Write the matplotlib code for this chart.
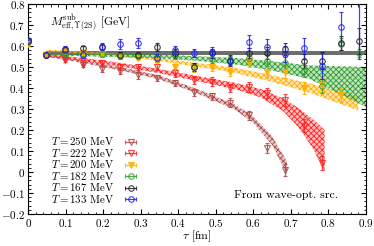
import numpy as np
import matplotlib
matplotlib.use("Agg")
import matplotlib.pyplot as plt
from matplotlib.ticker import MultipleLocator, FuncFormatter

plt.rcParams['font.family'] = 'serif'
plt.rcParams['font.serif'] = ['cmr10', 'DejaVu Serif']
plt.rcParams['mathtext.fontset'] = 'cm'
plt.rcParams['axes.formatter.use_mathtext'] = True
plt.rcParams['hatch.linewidth'] = 0.6

# lattice time slices, tau = n * a
a = 0.049
labels = ['$T = 250$ MeV', '$T = 222$ MeV', '$T = 200$ MeV',
          '$T = 182$ MeV', '$T = 167$ MeV', '$T = 133$ MeV']
colors = ['#b04848', '#ff2020', '#ffae00', '#2e9e2e', '#202020', '#2020ee']
markers = ['v', 'v', 'v', 'o', 'o', 'o']

m250 = [0.62, 0.557, 0.543, 0.51, 0.49, 0.48, 0.46, 0.448, 0.424, 0.38, 0.36,
        0.33, 0.27, 0.115, 0.01]
e250 = [0.01, 0.008, 0.01, 0.012, 0.012, 0.014, 0.015, 0.015, 0.016, 0.017,
        0.018, 0.02, 0.022, 0.025, 0.03]
m222 = [0.62, 0.557, 0.533, 0.52, 0.52, 0.5, 0.5, 0.5, 0.471, 0.438, 0.43,
        0.40, 0.405, 0.376, 0.343, 0.22, 0.043]
e222 = [0.01, 0.008, 0.01, 0.012, 0.012, 0.014, 0.015, 0.016, 0.017, 0.018,
        0.02, 0.02, 0.022, 0.025, 0.028, 0.03, 0.035]
m200 = [0.61, 0.557, 0.575, 0.565, 0.56, 0.55, 0.545, 0.53, 0.5, 0.495, 0.5,
        0.476, 0.52, 0.476, 0.476, 0.40, 0.414, 0.367]
e200 = [0.01, 0.008, 0.01, 0.01, 0.012, 0.012, 0.014, 0.015, 0.016, 0.018,
        0.02, 0.02, 0.022, 0.025, 0.028, 0.03, 0.032, 0.035]
m182 = [0.62, 0.557, 0.56, 0.56, 0.56, 0.55, 0.55, 0.545, 0.555, 0.5, 0.54,
        0.533, 0.543, 0.53, 0.52, 0.48, 0.41, 0.61, 0.567]
e182 = [0.01, 0.008, 0.01, 0.01, 0.012, 0.012, 0.014, 0.015, 0.016, 0.018,
        0.02, 0.02, 0.022, 0.025, 0.028, 0.03, 0.035, 0.03, 0.02]
m167 = [0.625, 0.557, 0.583, 0.59, 0.595, 0.557, 0.557, 0.595, 0.565, 0.5,
        0.565, 0.53, 0.567, 0.567, 0.585, 0.529, 0.529, 0.614, 0.624]
e167 = [0.008, 0.008, 0.01, 0.012, 0.015, 0.015, 0.015, 0.02, 0.02, 0.02,
        0.02, 0.025, 0.025, 0.03, 0.03, 0.035, 0.04, 0.035, 0.06]
m133 = [0.628, 0.557, 0.586, 0.557, 0.595, 0.61, 0.614, 0.543, 0.58, 0.567,
        0.57, 0.529, 0.62, 0.595, 0.562, 0.59, 0.505, 0.69, 0.82]
e133 = [0.01, 0.008, 0.015, 0.015, 0.02, 0.025, 0.025, 0.02, 0.02, 0.02,
        0.025, 0.02, 0.03, 0.04, 0.04, 0.05, 0.06, 0.07, 0.28]

# fit bands: knots, centre, half width
bt250 = [0.049, 0.15, 0.25, 0.35, 0.45, 0.55, 0.6, 0.65, 0.69]
bc250 = [0.555, 0.525, 0.49, 0.45, 0.385, 0.31, 0.25, 0.15, 0.02]
bw250 = [0.006, 0.007, 0.008, 0.009, 0.01, 0.012, 0.015, 0.02, 0.03]
bt222 = [0.049, 0.15, 0.25, 0.35, 0.45, 0.55, 0.62, 0.68, 0.72, 0.76, 0.79]
bc222 = [0.555, 0.535, 0.51, 0.48, 0.445, 0.41, 0.375, 0.32, 0.26, 0.18, 0.10]
bw222 = [0.006, 0.007, 0.008, 0.01, 0.012, 0.015, 0.02, 0.03, 0.045, 0.07, 0.1]
bt200 = [0.049, 0.15, 0.25, 0.35, 0.45, 0.55, 0.65, 0.75, 0.88]
bc200 = [0.578, 0.568, 0.555, 0.535, 0.51, 0.485, 0.445, 0.40, 0.325]
bw200 = [0.004, 0.005, 0.006, 0.007, 0.009, 0.012, 0.016, 0.022, 0.032]
bt182 = [0.049, 0.15, 0.25, 0.35, 0.45, 0.55, 0.65, 0.75, 0.9]
bc182 = [0.56, 0.558, 0.555, 0.55, 0.54, 0.528, 0.505, 0.475, 0.405]
bw182 = [0.006, 0.007, 0.008, 0.009, 0.011, 0.015, 0.022, 0.032, 0.095]
bt167 = [0.049, 0.9]
bc167 = [0.565, 0.565]
bw167 = [0.009, 0.009]

series = [(m250, e250), (m222, e222), (m200, e200), (m182, e182),
          (m167, e167), (m133, e133)]
bands = [(bt250, bc250, bw250), (bt222, bc222, bw222), (bt200, bc200, bw200),
         (bt182, bc182, bw182)]

fig = plt.figure(figsize=(3.74, 2.46), dpi=100)
ax = fig.add_axes([0.075, 0.13, 0.903, 0.854])

# grey constant band for T=167
t = np.array(bt167)
c = np.array(bc167)
w = np.array(bw167)
ax.fill_between(t, c - w, c + w, color='#6e6e6e', lw=0, zorder=1)

for (bt, bc, bw), col in zip(bands, colors):
    t = np.array(bt)
    c = np.array(bc)
    w = np.array(bw)
    ax.fill_between(t, c - w, c + w, facecolor=col, alpha=0.3, lw=0, zorder=1)
    ax.fill_between(t, c - w, c + w, facecolor='none', edgecolor=col,
                    hatch='xxxxxx', lw=0, zorder=1)

handles = []
for (m, e), col, mk, lab in zip(series, colors, markers, labels):
    n = np.arange(len(m))
    fc = col if lab == '$T = 200$ MeV' else 'none'
    style = dict(fmt=mk, color=col, mfc=fc, mec=col, ms=4, mew=0.8,
                 elinewidth=0.9, capsize=1.5, capthick=0.8, ecolor=col,
                 alpha=0.85)
    ax.errorbar(n * a, m, yerr=e, zorder=3, **style)
    # legend proxy with a horizontal bar, as in gnuplot keys
    h = ax.errorbar([np.nan], [np.nan], xerr=[1.0], label=lab, **style)
    handles.append(h)

ax.set_xlim(0, 0.9)
ax.set_ylim(-0.2, 0.8)
ax.xaxis.set_major_locator(MultipleLocator(0.1))
ax.xaxis.set_minor_locator(MultipleLocator(0.02))
ax.yaxis.set_major_locator(MultipleLocator(0.1))
ax.yaxis.set_minor_locator(MultipleLocator(0.02))


def fmt(v, pos):
    if abs(v) < 1e-9:
        return '$0$'
    return '$%.1f$' % v


ax.xaxis.set_major_formatter(FuncFormatter(fmt))
ax.yaxis.set_major_formatter(FuncFormatter(fmt))
ax.tick_params(which='both', direction='in', top=True, right=True,
               labelsize=8, pad=2)
ax.tick_params(which='major', length=3.5)
ax.tick_params(which='minor', length=1.8)
ax.set_xlabel(r'$\tau$ [fm]', fontsize=8.5, labelpad=0)

ax.text(0.065, 0.915, r'$M^{\rm sub}_{\rm eff,\Upsilon(2S)}$ [GeV]',
        transform=ax.transAxes, fontsize=8.5, va='center')
ax.text(0.918, 0.09, 'From wave-opt. src.', transform=ax.transAxes,
        fontsize=8.5, ha='right', va='center')

ax.legend(handles=handles, loc='lower left', bbox_to_anchor=(0.045, 0.008),
          markerfirst=False, frameon=False, fontsize=7.8, handlelength=2.3,
          labelspacing=-0.05, borderpad=0.2, handletextpad=0.4)

fig.savefig('out.png', dpi=100)
